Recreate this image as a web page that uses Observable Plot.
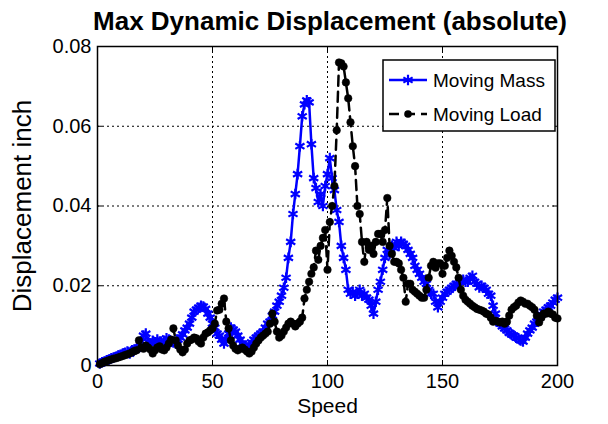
<!DOCTYPE html>
<html>
<head>
<meta charset="utf-8">
<script src="https://cdn.jsdelivr.net/npm/d3@7"></script>
<script src="https://cdn.jsdelivr.net/npm/@observablehq/plot@0.6"></script>
<style>
  html, body { margin: 0; padding: 0; background: white; }
</style>
</head>
<body>
<div id="chart"></div>
<script>
const titleText = "Max Dynamic Displacement (absolute)";
const xLabel = "Speed";
const yLabel = "Displacement inch";
const seriesNames = ["Moving Mass", "Moving Load"];
const xTicks = [0, 50, 100, 150, 200];
const yTicks = [0, 0.02, 0.04, 0.06, 0.08];
const speedFirst = 1;

const movingMass = [
  0.0005,0.0008,0.001,0.0013,0.0015,0.0018,0.002,0.0022,0.0025,0.0027,
  0.003,0.0032,0.0035,0.003,0.0038,0.004,0.0042,0.0045,0.006,0.0075,
  0.008,0.006,0.0055,0.0062,0.0058,0.0065,0.006,0.0055,0.0062,0.0068,
  0.0065,0.006,0.0058,0.0055,0.0065,0.007,0.0078,0.0088,0.0095,0.0105,
  0.012,0.0135,0.014,0.0145,0.015,0.0148,0.0142,0.013,0.012,0.0105,
  0.0095,0.008,0.0075,0.0065,0.0055,0.0065,0.008,0.0095,0.009,0.0085,
  0.0075,0.0065,0.0055,0.005,0.0045,0.005,0.0058,0.0065,0.007,0.0075,
  0.008,0.0085,0.0095,0.0105,0.011,0.0125,0.0135,0.015,0.016,0.0175,
  0.0195,0.022,0.027,0.031,0.038,0.043,0.048,0.055,0.0625,0.0655,
  0.0665,0.066,0.0555,0.047,0.0445,0.041,0.043,0.040,0.045,0.048,
  0.052,0.047,0.044,0.039,0.036,0.030,0.027,0.024,0.019,0.018,
  0.0185,0.0175,0.018,0.019,0.0175,0.018,0.017,0.0165,0.015,0.013,
  0.016,0.019,0.021,0.024,0.027,0.029,0.028,0.030,0.0295,0.031,
  0.030,0.031,0.0305,0.030,0.029,0.028,0.027,0.025,0.024,0.023,
  0.022,0.021,0.0205,0.019,0.018,0.018,0.016,0.0146,0.016,0.017,
  0.018,0.0185,0.019,0.0195,0.020,0.0205,0.020,0.021,0.0215,0.021,
  0.021,0.022,0.0225,0.021,0.0205,0.0196,0.020,0.0195,0.019,0.018,
  0.0175,0.015,0.013,0.011,0.0105,0.0098,0.0093,0.0088,0.0082,0.0078,
  0.0075,0.007,0.0068,0.0063,0.006,0.007,0.008,0.0088,0.0095,0.0105,
  0.011,0.012,0.0128,0.0135,0.014,0.0146,0.015,0.0158,0.0165,0.017
];

const movingLoad = [
  0.0003,0.0006,0.0009,0.0011,0.0013,0.0015,0.0017,0.0018,0.002,0.0022,
  0.0024,0.0026,0.0028,0.003,0.0033,0.0036,0.0038,0.0063,0.0045,0.0042,
  0.005,0.0045,0.004,0.003,0.0038,0.0045,0.0048,0.004,0.0038,0.0045,
  0.0055,0.0065,0.0093,0.0063,0.005,0.004,0.0033,0.004,0.0055,0.0063,
  0.0065,0.007,0.0068,0.006,0.0055,0.007,0.008,0.0083,0.0088,0.0093,
  0.0105,0.0138,0.014,0.0155,0.0168,0.011,0.0093,0.0063,0.005,0.0042,
  0.0038,0.0042,0.0045,0.004,0.0035,0.003,0.0035,0.0045,0.0055,0.0063,
  0.007,0.0075,0.008,0.0085,0.0105,0.013,0.011,0.0085,0.007,0.0075,
  0.0085,0.0095,0.0105,0.011,0.0105,0.0098,0.0105,0.011,0.012,0.0168,
  0.019,0.021,0.023,0.0246,0.0288,0.0265,0.030,0.032,0.034,0.024,
  0.036,0.040,0.045,0.059,0.076,0.0758,0.075,0.071,0.067,0.061,
  0.055,0.050,0.040,0.038,0.031,0.026,0.031,0.029,0.030,0.028,
  0.031,0.033,0.033,0.031,0.034,0.042,0.030,0.028,0.026,0.026,
  0.0256,0.024,0.022,0.016,0.0205,0.0205,0.019,0.0185,0.018,0.0175,
  0.017,0.017,0.019,0.022,0.025,0.026,0.0245,0.0256,0.0256,0.023,
  0.025,0.027,0.0288,0.0275,0.026,0.0246,0.022,0.019,0.0175,0.0165,
  0.016,0.0155,0.015,0.0146,0.0142,0.014,0.0138,0.0135,0.013,0.0128,
  0.012,0.011,0.0112,0.011,0.0108,0.011,0.0105,0.011,0.0125,0.014,
  0.0146,0.015,0.0158,0.0163,0.016,0.0155,0.0155,0.015,0.0146,0.014,
  0.0125,0.0108,0.012,0.013,0.013,0.0135,0.013,0.0128,0.012,0.0118
];

const massData = movingMass.map((v, i) => ({speed: speedFirst + i, value: v}));
const loadData = movingLoad.map((v, i) => ({speed: speedFirst + i, value: v}));

const font = "'Liberation Sans', Arial, Helvetica, sans-serif";

const chart = Plot.plot({
  width: 608,
  height: 424,
  marginLeft: 97,
  marginRight: 51,
  marginTop: 46,
  marginBottom: 59,
  style: {fontFamily: font, fontSize: "20px", color: "black", background: "white", overflow: "visible"},
  x: {domain: [0, 200]},
  y: {domain: [0, 0.08]},
  marks: [
    Plot.gridX(xTicks, {stroke: "black", strokeOpacity: 1, strokeWidth: 1, strokeDasharray: "2,3"}),
    Plot.gridY(yTicks, {stroke: "black", strokeOpacity: 1, strokeWidth: 1, strokeDasharray: "2,3"}),
    Plot.axisX(xTicks, {anchor: "bottom", tickSize: -5, tickPadding: 13, tickFormat: d => String(d), label: null, fontSize: 20}),
    Plot.axisX(xTicks, {anchor: "top", tickSize: -5, text: null, label: null}),
    Plot.axisY(yTicks, {anchor: "left", tickSize: -5, tickPadding: 11, tickFormat: d => d === 0 ? "0" : d.toFixed(2), label: null, fontSize: 20}),
    Plot.axisY(yTicks, {anchor: "right", tickSize: -5, text: null, label: null}),
    Plot.lineY(massData, {x: "speed", y: "value", stroke: "#0000ff", strokeWidth: 2.5}),
    Plot.dot(massData, {x: "speed", y: "value", symbol: "asterisk", r: 5, stroke: "#0000ff", strokeWidth: 2.2}),
    Plot.lineY(loadData, {x: "speed", y: "value", stroke: "black", strokeWidth: 2.5, strokeDasharray: "10,6"}),
    Plot.dot(loadData, {x: "speed", y: "value", r: 3.8, fill: "black", stroke: "black", strokeWidth: 0.5}),
    Plot.frame({stroke: "black", strokeWidth: 1.5}),
    Plot.text([xLabel], {frameAnchor: "bottom", dy: 47, fontSize: 21, fill: "black"}),
    Plot.text([yLabel], {frameAnchor: "left", dx: -75, rotate: -90, textAnchor: "middle", fontSize: 26, fill: "black"})
  ]
});

document.getElementById("chart").appendChild(chart);

const svg = d3.select(chart);

// Title
svg.append("text")
  .attr("x", 330).attr("y", 30)
  .attr("text-anchor", "middle")
  .attr("font-family", font).attr("font-size", 26).attr("font-weight", "bold")
  .attr("fill", "black")
  .text(titleText);

// Legend box (top-right inside the frame)
const lg = svg.append("g").attr("font-family", font).attr("font-size", 19);
const bx = 383, by = 60, bw = 172, bh = 71;
lg.append("rect").attr("x", bx).attr("y", by).attr("width", bw).attr("height", bh)
  .attr("fill", "white").attr("stroke", "black").attr("stroke-width", 1.5);
const rows = [
  {name: seriesNames[0], color: "#0000ff", dash: null},
  {name: seriesNames[1], color: "black", dash: "10,6"}
];
rows.forEach((r, i) => {
  const cy = by + 20 + i * 34;
  lg.append("line").attr("x1", bx + 6).attr("x2", bx + 44).attr("y1", cy).attr("y2", cy)
    .attr("stroke", r.color).attr("stroke-width", 2.5).attr("stroke-dasharray", r.dash);
  if (i === 0) {
    lg.append("path").attr("d", d3.symbol(d3.symbolAsterisk, 80)()).attr("transform", `translate(${bx + 25},${cy})`)
      .attr("stroke", r.color).attr("stroke-width", 2.2).attr("fill", "none");
  } else {
    lg.append("circle").attr("cx", bx + 25).attr("cy", cy).attr("r", 3.8).attr("fill", "black");
  }
  lg.append("text").attr("x", bx + 50).attr("y", cy).attr("dy", "0.35em")
    .attr("text-anchor", "start").attr("fill", "black").text(r.name);
});
</script>
</body>
</html>
